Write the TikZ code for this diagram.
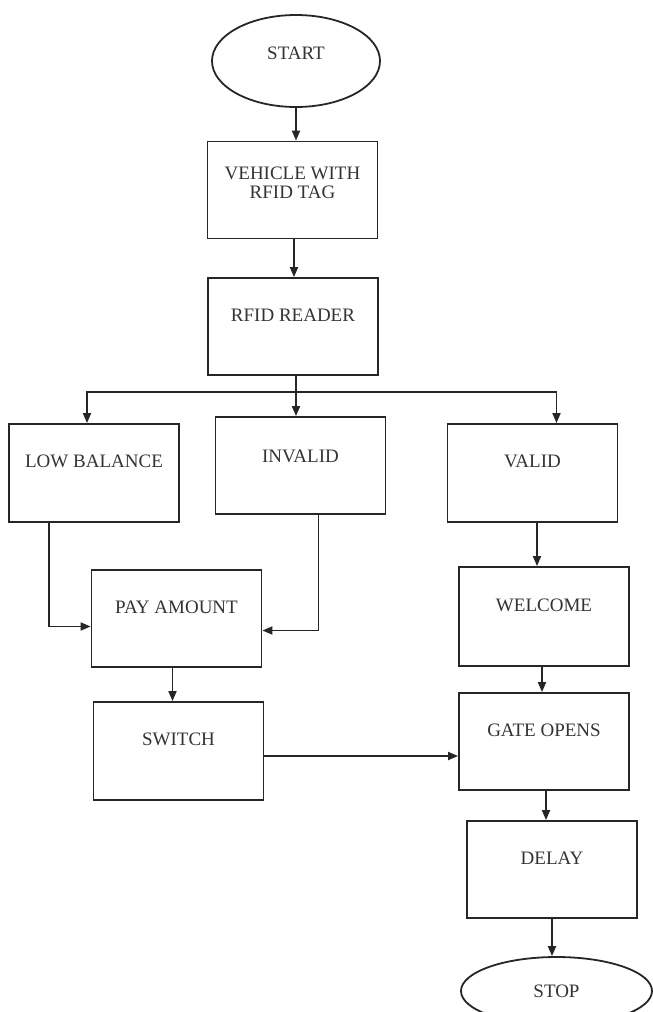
\documentclass[tikz,border=0pt]{standalone}
\usepackage{fontspec}
\setmainfont{Liberation Serif}
\usetikzlibrary{shapes.geometric, arrows.meta}

\begin{document}
\begin{tikzpicture}[x=1pt, y=-1pt,
	every node/.style={font=\fontsize{19}{19}\selectfont, text=black!80},
	box/.style={draw=black!85, line width=1.8pt, minimum width=170pt, minimum height=97pt, inner sep=0pt, text height=43pt, text depth=54pt, align=center},
	term/.style={draw=black!85, line width=1.8pt, ellipse, inner sep=0pt},
	flow/.style={draw=black!85, line width=1.8pt, -{Triangle[length=10pt, width=8pt]}}]
	\useasboundingbox (0,0) rectangle (653,1012);

	% Define the nodes with specific positions
	\node[term, minimum width=168pt, minimum height=92pt, text height=10pt, text depth=13.4pt] (start) at (296, 61) {START};
	\node[box, text height=57pt, text depth=40pt] (vehicle) at (292.5, 190) {VEHICLE WITH\\RFID TAG};
	\node[box] (reader) at (293, 326.5) {RFID READER};
	\node[box, minimum height=98pt] (lowbal) at (94, 473) {LOW BALANCE};
	\node[box, text height=45pt, text depth=52pt] (invalid) at (300.5, 465.5) {INVALID};
	\node[box, minimum height=98pt] (valid) at (532.5, 473) {VALID};
	\node[box] (pay) at (176.5, 618.5) {PAY AMOUNT};
	\node[box, minimum height=98pt] (switch) at (178.5, 751) {SWITCH};
	\node[box, minimum height=99pt] (welcome) at (544, 616.5) {WELCOME};
	\node[box] (gate) at (544, 741.5) {GATE OPENS};
	\node[box] (delay) at (552, 869.5) {DELAY};
	\node[term, minimum width=191pt, minimum height=68pt] (stop) at (556.5, 991) {STOP};

	% Draw the edges between nodes
	\draw[flow] (start) -- (start.south |- vehicle.north);
	\draw[flow] ([xshift=1.5pt]vehicle.south) -- ([xshift=1.5pt]vehicle.south |- reader.north);
	\draw[flow] ([xshift=3pt]reader.south) -- ++(0,16) -| ([xshift=-7pt]lowbal.north);
	\draw[flow] ([xshift=3pt]reader.south) -- ([xshift=3pt]reader.south |- invalid.north);
	\draw[flow] ([xshift=3pt]reader.south) -- ++(0,16) -| ([xshift=24pt]valid.north);
	\draw[flow] ([xshift=-45pt]lowbal.south) |- ([yshift=-8pt]pay.west);
	\draw[flow] ([xshift=18pt]invalid.south) |- ([yshift=-12pt]pay.east);
	\draw[flow] ([xshift=4.5pt]valid.south) -- ([xshift=4.5pt]valid.south |- welcome.north);
	\draw[flow] ([xshift=-4pt]pay.south) -- ([xshift=-4pt]pay.south |- switch.north);
	\draw[flow] ([yshift=-5pt]switch.east) -- ([yshift=-5pt]switch.east -| gate.west);
	\draw[flow] ([xshift=-2pt]welcome.south) -- ([xshift=-2pt]welcome.south |- gate.north);
	\draw[flow] ([xshift=2pt]gate.south) -- ([xshift=2pt]gate.south |- delay.north);
	\draw[flow] (delay) -- (delay.south |- stop.north);
\end{tikzpicture}
\end{document}
